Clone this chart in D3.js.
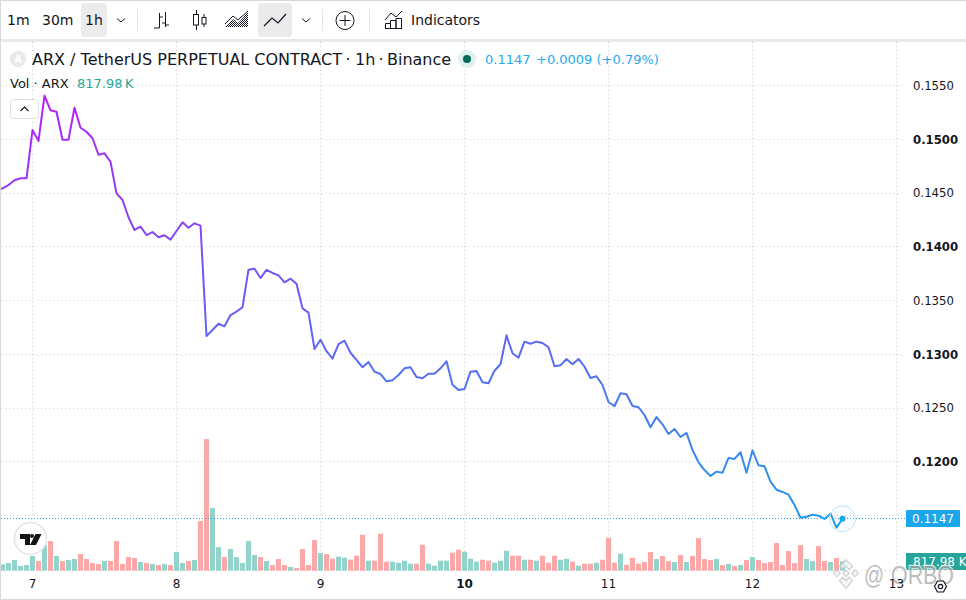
<!DOCTYPE html>
<html>
<head>
<meta charset="utf-8">
<script src="https://cdn.jsdelivr.net/npm/d3@7"></script>
<style>
  html, body { margin: 0; padding: 0; background: #fff; }
  svg { display: block; font-family: "DejaVu Sans", sans-serif; }
</style>
</head>
<body>
<div id="chart"></div>
<script>
// hourly closes, starting 6 hours before day 7 (first one sits just off the left edge)
const closes = [
  .14520,
  .14544,.14574,.14618,.14637,.14637,.15086,.14984,.15405,.15269,.15256,.14996,.14996,.15293,.15107,.15070,.15009,.14856,.14869,.14791,.14497,
  .14435,.14274,.14156,.14187,.14109,.14137,.14088,.14107,.14066,.14147,.14227,.14177,.14218,.14196,.13170,.13226,.13284,.13260,.13365,.13396,
  .13437,.13787,.13796,.13709,.13784,.13756,.13734,.13669,.13703,.13656,.13427,.13387,.13049,.13135,.13028,.12959,.13095,.13126,.13014,.12947,
  .12879,.12928,.12838,.12816,.12748,.12758,.12807,.12869,.12879,.12788,.12776,.12819,.12819,.12869,.12934,.12717,.12667,.12677,.12838,.12844,
  .12739,.12730,.12847,.12907,.13176,.13009,.12968,.13117,.13098,.13117,.13105,.13065,.12888,.12897,.12956,.12907,.12956,.12884,.12779,.12795,
  .12714,.12556,.12516,.12637,.12628,.12519,.12507,.12435,.12321,.12416,.12348,.12258,.12305,.12230,.12268,.12109,.11995,.11923,.11868,.11908,
  .11898,.12035,.12026,.12088,.11898,.12107,.11967,.11958,.11815,.11740,.11719,.11694,.11598,.11480,.11489,.11508,.11498,.11468,.11517,.11387,
  .11470
];
// volume in thousands, one per close
const volumes = [
  500,
  557,675,939,411,499,1291,851,2259,2611,1291,851,939,1027,1467,1027,675,587,851,851,2611,
  587,1203,1115,763,675,587,499,587,499,1643,675,851,939,4371,11587,5515,2083,1203,1907,1203,
  675,2611,1379,1203,851,499,1027,499,323,235,1907,499,2699,1555,1467,1056,1232,1144,968,1320,
  3168,880,880,3256,792,792,704,880,616,616,2288,616,440,880,880,1584,1848,1672,1056,792,
  968,880,704,880,1760,1320,1320,968,968,880,1320,704,1320,968,1056,792,440,616,616,704,
  968,2904,704,1496,528,1144,616,763,1643,1027,1291,851,763,1379,763,1291,2875,1027,939,1027,
  499,587,411,499,939,1203,939,675,763,2435,499,1731,675,2259,1027,851,2171,851,763,1115,
  818
];
// 1 = rising bar (teal), 0 = falling bar (red)
const volumeUp = [
  1,
  1,1,1,1,1,1,0,1,0,1,0,1,1,0,0,0,0,1,0,0,
  0,0,0,1,0,1,0,1,0,1,1,0,1,0,0,1,1,0,1,1,
  1,1,1,0,1,0,0,0,1,0,0,0,0,1,0,0,1,1,0,0,
  0,1,0,0,0,1,1,1,1,0,0,1,1,1,1,0,0,1,1,1,
  0,0,1,1,1,0,0,1,0,1,0,0,0,1,1,0,1,0,0,1,
  0,0,0,1,0,0,0,0,0,1,0,0,1,0,1,0,0,0,0,1,
  0,1,0,1,0,1,0,0,0,0,0,0,0,0,1,1,0,0,1,0,
  1
];
const dayLabels = [7, 8, 9, 10, 11, 12, 13];
const priceTicks = [0.155, 0.15, 0.145, 0.14, 0.135, 0.13, 0.125, 0.12];
const priceGrid = [0.155, 0.15, 0.145, 0.14, 0.135, 0.13, 0.125, 0.12, 0.115];
const boldPrices = [0.15, 0.14, 0.13, 0.12];
const timeframes = [["1m", 7], ["30m", 42], ["1h", 85]];

const width = 966, height = 600;
const firstHour = -6;
const hourOf = i => i + firstHour;
const crisp = v => Math.floor(v) + 0.5;

const x = d3.scaleLinear().domain([0, 144]).range([32.5, 896.5]);
const y = d3.scaleLinear().domain([0.155, 0.115]).range([85.5, 515.5]);
const yVol = d3.scaleLinear().domain([0, 11600]).range([570.7, 439]);

const svg = d3.select("#chart").append("svg")
  .attr("width", width)
  .attr("height", height);

const defs = svg.append("defs");

// the line colour runs with the price, top to bottom
const grad = defs.append("linearGradient")
  .attr("id", "lineGrad")
  .attr("gradientUnits", "userSpaceOnUse")
  .attr("x1", 0).attr("x2", 0)
  .attr("y1", y(d3.max(closes)))
  .attr("y2", y(d3.min(closes)));
grad.append("stop").attr("offset", 0).attr("stop-color", "#b51ff8");
grad.append("stop").attr("offset", 1).attr("stop-color", "#1e9df0");

const dither = defs.append("pattern")
  .attr("id", "dither")
  .attr("width", 2).attr("height", 2)
  .attr("patternUnits", "userSpaceOnUse");
dither.append("rect").attr("width", 1).attr("height", 1).attr("fill", "#131722");
dither.append("rect").attr("x", 1).attr("y", 1).attr("width", 1).attr("height", 1).attr("fill", "#131722");

// grid
const gridColor = "#cfcfcf";
svg.append("g").selectAll("line").data(priceGrid).join("line")
  .attr("x1", 1).attr("x2", 902)
  .attr("y1", d => crisp(y(d))).attr("y2", d => crisp(y(d)))
  .attr("stroke", gridColor).attr("stroke-dasharray", "1 3");
svg.append("g").selectAll("line").data(dayLabels).join("line")
  .attr("x1", d => crisp(x((d - 7) * 24))).attr("x2", d => crisp(x((d - 7) * 24)))
  .attr("y1", 42).attr("y2", 573)
  .attr("stroke", gridColor).attr("stroke-dasharray", "1 3");

// volume bars
svg.append("g").selectAll("rect").data(volumes).join("rect")
  .attr("x", (d, i) => x(hourOf(i)) - 2.5)
  .attr("width", 5)
  .attr("y", d => yVol(d))
  .attr("height", d => yVol(0) - yVol(d))
  .attr("fill", (d, i) => volumeUp[i] ? "#92d3cb" : "#fca8a8");

// volume baseline
svg.append("line")
  .attr("x1", 1).attr("x2", 902)
  .attr("y1", crisp(yVol(0))).attr("y2", crisp(yVol(0)))
  .attr("stroke", gridColor).attr("stroke-dasharray", "1 3");

// last price line
const lastPrice = closes[closes.length - 1];
const lastX = x(hourOf(closes.length - 1));
svg.append("line")
  .attr("x1", 1).attr("x2", 906)
  .attr("y1", crisp(y(lastPrice))).attr("y2", crisp(y(lastPrice)))
  .attr("stroke", "#1ba5ea").attr("stroke-dasharray", "1 2");

// price line
const line = d3.line()
  .x((d, i) => x(hourOf(i)))
  .y(d => y(d));
svg.append("path")
  .datum(closes)
  .attr("d", line)
  .attr("fill", "none")
  .attr("stroke", "url(#lineGrad)")
  .attr("stroke-width", 2)
  .attr("stroke-linejoin", "round");

svg.append("circle").attr("cx", lastX).attr("cy", y(lastPrice)).attr("r", 13)
  .attr("fill", "#1ba5ea").attr("fill-opacity", 0.03)
  .attr("stroke", "#bfe6f8");
svg.append("circle").attr("cx", lastX).attr("cy", y(lastPrice)).attr("r", 3)
  .attr("fill", "#1ba5ea");

// right price axis
const yAxis = d3.axisRight(y)
  .tickValues(priceTicks)
  .tickSize(0)
  .tickPadding(0)
  .tickFormat(d3.format(".4f"));
const yAxisG = svg.append("g")
  .attr("transform", "translate(913,0)")
  .call(yAxis);
yAxisG.select(".domain").remove();
yAxisG.selectAll("text")
  .attr("font-family", "DejaVu Sans")
  .attr("font-size", 11.7)
  .attr("fill", "#131722")
  .attr("font-weight", d => boldPrices.includes(d) ? "bold" : "normal");

// price and volume tags
svg.append("rect").attr("x", 906).attr("y", 510).attr("width", 54).attr("height", 17).attr("rx", 1)
  .attr("fill", "#1ba5ea");
svg.append("text").attr("x", 933).attr("y", 522.5).attr("text-anchor", "middle")
  .attr("font-size", 12).attr("fill", "#fff").text(lastPrice.toFixed(4));
svg.append("rect").attr("x", 906).attr("y", 553).attr("width", 60).attr("height", 17)
  .attr("fill", "#26a69a");
svg.append("text").attr("x", 913).attr("y", 565.5)
  .attr("font-size", 12).attr("fill", "#fff").text("817.98 K");

// watermark
const wm = svg.append("g").attr("opacity", 0.75);
wm.append("g").attr("transform", "translate(846,574) scale(1.3)")
  .selectAll("path")
  .data(["M0 -11 L5 -6 L2.5 -3.5 L0 -6 L-2.5 -3.5 L-5 -6 Z", "M-7 -3 L-4.5 -0.5 L-7 2 L-9.5 -0.5 Z", "M7 -3 L9.5 -0.5 L7 2 L4.5 -0.5 Z",
    "M0 -3 L2.5 -0.5 L0 2 L-2.5 -0.5 Z", "M0 11 L5 5 L2.5 2.5 L0 5 L-2.5 2.5 L-5 5 Z"])
  .join("path")
  .attr("d", d => d)
  .attr("fill", "#f4f4f4").attr("stroke", "#c4c4c4").attr("stroke-width", 1);
wm.selectAll("text.mark").data([["@", 864, 20], ["ORBO", 891, 63]]).join("text")
  .attr("class", "mark")
  .attr("x", d => d[1]).attr("y", 584)
  .attr("font-family", "Liberation Sans")
  .attr("font-size", 26)
  .attr("textLength", d => d[2])
  .attr("lengthAdjust", "spacingAndGlyphs")
  .attr("fill", "#a8a8a8")
  .attr("stroke", "#fff").attr("stroke-width", 2.5)
  .attr("paint-order", "stroke")
  .text(d => d[0]);

// bottom time axis
const xAxis = d3.axisBottom(x)
  .tickValues(dayLabels.map(d => (d - 7) * 24))
  .tickSize(0)
  .tickPadding(0)
  .tickFormat(h => 7 + h / 24);
const xAxisG = svg.append("g")
  .attr("transform", "translate(-0.5,579)")
  .call(xAxis);
xAxisG.select(".domain").remove();
xAxisG.selectAll("text")
  .attr("font-family", "DejaVu Sans")
  .attr("font-size", 12)
  .attr("fill", "#131722")
  .attr("font-weight", d => d === 72 ? "bold" : "normal");

// settings gear
svg.append("path")
  .attr("d", "M934.5 586.5 L937.5 581 L943.5 581 L946.5 586.5 L943.5 592 L937.5 592 Z")
  .attr("fill", "#fff").attr("stroke", "#131722").attr("stroke-width", 1.2);
svg.append("circle").attr("cx", 940.5).attr("cy", 586.5).attr("r", 2.2)
  .attr("fill", "#fff").attr("stroke", "#131722").attr("stroke-width", 1.2);

// tv logo
svg.append("circle").attr("cx", 30.5).attr("cy", 538.5).attr("r", 16)
  .attr("fill", "#fff").attr("stroke", "#e4e4e4").attr("stroke-width", 1.5);
svg.append("path")
  .attr("d", "M20 534 H30 V545 H25 V539 H20 Z M35.5 534 H41.5 L36 545 H30 Z")
  .attr("fill", "#131313");
svg.append("circle").attr("cx", 32).attr("cy", 536).attr("r", 2).attr("fill", "#131313");

// legend
svg.append("circle").attr("cx", 18).attr("cy", 59).attr("r", 8).attr("fill", "#e9e9e9");
svg.append("text").attr("x", 18).attr("y", 63).attr("text-anchor", "middle")
  .attr("font-size", 10).attr("font-weight", "bold").attr("fill", "#fff").text("A");
const title = svg.append("text").attr("y", 65).attr("font-size", 16).attr("fill", "#131722");
title.selectAll("tspan")
  .data([["ARX / TetherUS PERPETUAL CONTRACT", 32], ["·", 345.5], ["1h", 355], ["·", 378.5], ["Binance", 387]])
  .join("tspan")
  .attr("x", d => d[1])
  .text(d => d[0]);
svg.append("circle").attr("cx", 467).attr("cy", 59).attr("r", 9).attr("fill", "#dff1ee");
svg.append("circle").attr("cx", 467).attr("cy", 59).attr("r", 4).attr("fill", "#00695c");
svg.append("text").attr("x", 485).attr("y", 64).attr("font-size", 13).attr("fill", "#29a9ea").text(lastPrice.toFixed(4));
svg.append("text").attr("x", 536).attr("y", 64).attr("font-size", 13).attr("fill", "#29a9ea").text("+0.0009 (+0.79%)");
svg.append("text").attr("x", 10).attr("y", 88).attr("font-size", 13).attr("fill", "#131722").text("Vol · ARX");
svg.append("text").attr("x", 77).attr("y", 88).attr("font-size", 13).attr("fill", "#26a69a").text("817.98\u2009K");
svg.append("rect").attr("x", 10.5).attr("y", 99.5).attr("width", 28).attr("height", 19).attr("rx", 3)
  .attr("fill", "#fff").attr("stroke", "#e0e0e0");
svg.append("path").attr("d", "M20.5 111 L24.5 107 L28.5 111").attr("fill", "none").attr("stroke", "#131722").attr("stroke-width", 1.2);

// toolbar
svg.append("rect").attr("x", 0).attr("y", 0).attr("width", width).attr("height", 39).attr("fill", "#fff");
svg.append("rect").attr("x", 0).attr("y", 39).attr("width", width).attr("height", 3).attr("fill", "#e9e9e9");
svg.append("rect").attr("x", 81).attr("y", 3).attr("width", 26).attr("height", 34).attr("rx", 4).attr("fill", "#ebebeb");
svg.append("rect").attr("x", 258).attr("y", 3).attr("width", 34).attr("height", 34).attr("rx", 4).attr("fill", "#ebebeb");
svg.append("g").selectAll("text").data(timeframes).join("text")
  .attr("x", d => d[1]).attr("y", 25)
  .attr("font-size", 14).attr("fill", "#131722")
  .text(d => d[0]);
svg.append("g").selectAll("line").data([137.5, 322.5, 369.5]).join("line")
  .attr("x1", d => d).attr("x2", d => d).attr("y1", 9).attr("y2", 31)
  .attr("stroke", "#e4e4e4");

const icons = svg.append("g").attr("fill", "none").attr("stroke", "#131722").attr("stroke-width", 1);
icons.selectAll("path.chev").data([117, 302]).join("path").attr("class", "chev")
  .attr("d", d => `M${d} 18.5 L${d + 4} 22 L${d + 8} 18.5`);
// bars icon
icons.append("path").attr("d", "M159.5 13 V28 M154 28 H159.5 M159.5 17 H163 M165.5 12 V27 M162 23 H165.5 M165.5 25 H169");
// candles icon
icons.append("path").attr("d", "M196.5 10 V14 M196.5 25 V30 M204 14 V17 M204 24 V27");
icons.append("rect").attr("x", 193.5).attr("y", 14.5).attr("width", 5).attr("height", 10.5);
icons.append("rect").attr("x", 202).attr("y", 17.5).attr("width", 4).attr("height", 6.5);
// area icon
icons.append("path").attr("d", "M225 27 L233 19 L238 23 L248 12 V27 Z").attr("fill", "url(#dither)").attr("stroke", "none");
icons.append("path").attr("d", "M225 24 L233 16 L238 20 L248 11");
// line icon
icons.append("path").attr("d", "M264 26 L272 18 L278 23 L286 14").attr("stroke-width", 1.2);
// plus
icons.append("circle").attr("cx", 345).attr("cy", 20.5).attr("r", 9);
icons.append("path").attr("d", "M345 15 V26 M339.5 20.5 H350.5");
// indicators icon
icons.append("path").attr("d", "M385 20 L391 13 L396 17 L402 11");
icons.append("path").attr("d", "M385.5 28.5 V23.5 H390.5 V28.5 M390.5 28.5 V20.5 H396 V28.5 M396 28.5 V18.5 H401.5 V28.5 M385 28.5 H402");
svg.append("text").attr("x", 411).attr("y", 25).attr("font-size", 14).attr("fill", "#131722").text("Indicators");

// outer border
svg.append("rect").attr("x", 0).attr("y", 0).attr("width", width).attr("height", 1).attr("fill", "#d8d8d8");
svg.append("rect").attr("x", 0).attr("y", 0).attr("width", 1).attr("height", height).attr("fill", "#d8d8d8");
svg.append("rect").attr("x", 0).attr("y", 599).attr("width", width).attr("height", 1).attr("fill", "#d8d8d8");
</script>
</body>
</html>
